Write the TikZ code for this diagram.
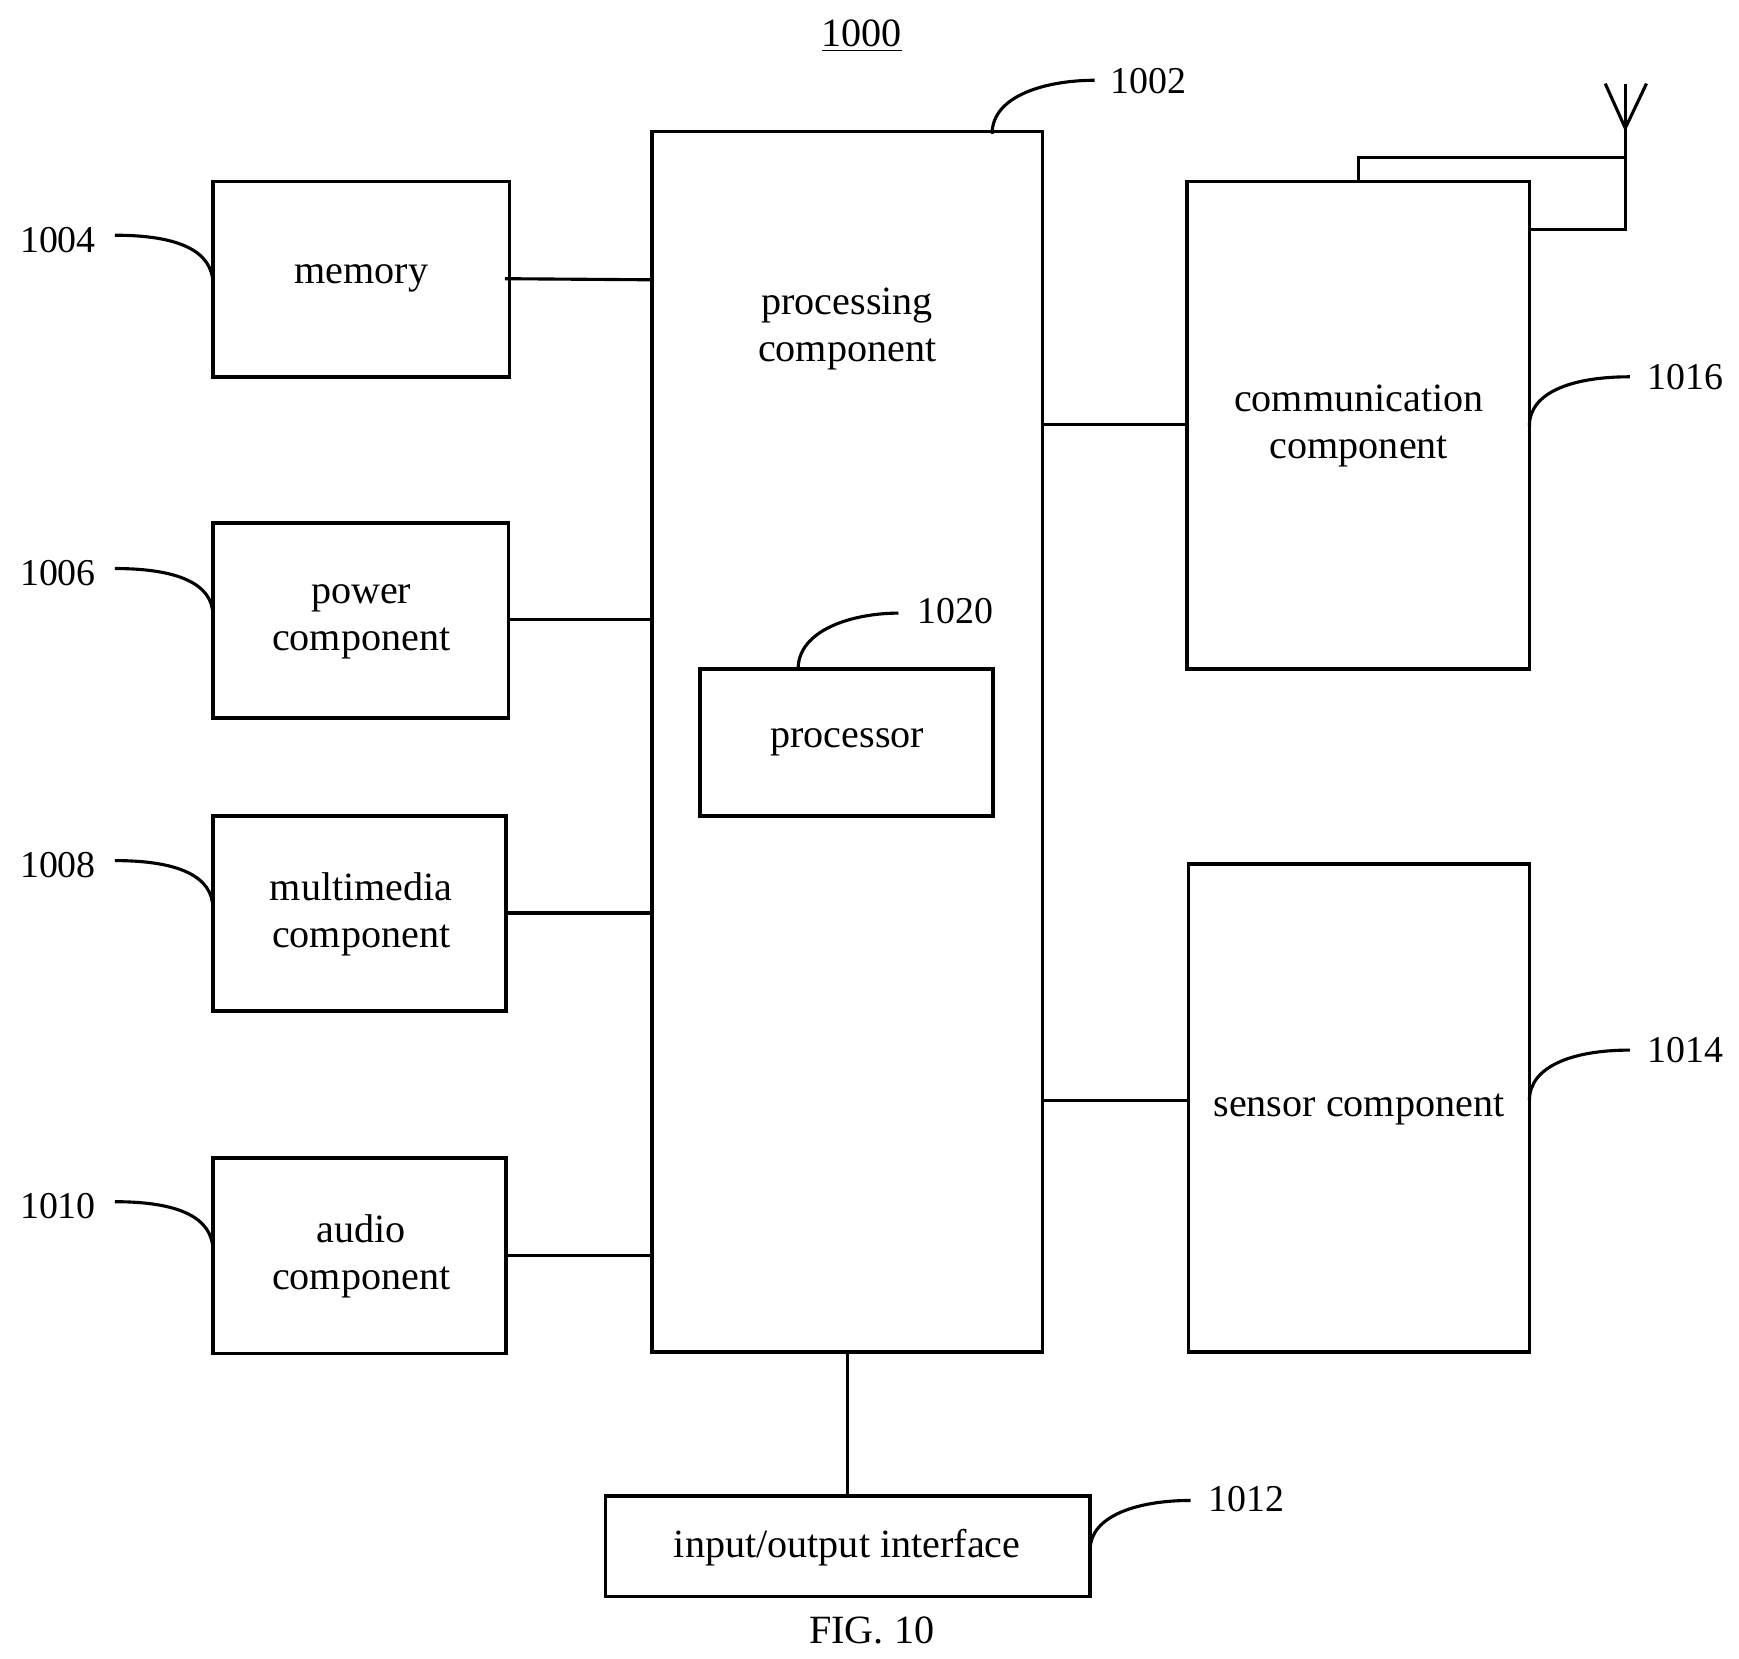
\documentclass[tikz,border=0pt]{standalone}
\usepackage{fontspec}
\setmainfont{Liberation Serif}
\begin{document}
\begin{tikzpicture}[x=0.5pt,y=-0.5pt,line width=1.4pt,
  box/.style={draw,line width=1.6pt},
  txt/.style={font=\fontsize{18}{21}\selectfont,align=center},
  lbl/.style={font=\fontsize{17}{20}\selectfont}]
\useasboundingbox (0,0) rectangle (1560,1488);
\node[txt] (title) at (773,32) {\underline{1000}};
\draw[box] (585,118) rectangle (935,1213); \coordinate (pc) at (760,1213);
\node[txt] (ptxt) at (760,295) {processing\\component};
\draw[box] (191,163) rectangle (457,338); \node[txt] (mem) at (324,250) {memory};
\draw[box] (191,469) rectangle (456,644); \node[txt] (pow) at (324,558) {power\\component};
\draw[box] (191,732) rectangle (454,907); \node[txt] (mm) at (324,820) {multimedia\\component};
\draw[box] (191,1039) rectangle (454,1214); \node[txt] (au) at (324,1127) {audio\\component};
\draw[box] (628,600) rectangle (891,732); \node[txt] (pr) at (760,666) {processor};
\draw[box] (1065,163) rectangle (1372,600); \node[txt] (com) at (1219,382) {communication\\component};
\draw[box] (1066,775) rectangle (1372,1213); \node[txt] (sen) at (1219,995) {sensor component};
\draw[box] (543,1342) rectangle (978,1432); \node[txt] (io) at (760,1388) {input/output interface};
\node[txt] (fig) at (782,1463) {FIG. 10};
% connectors
\draw (453,250) -- (585,251);
\draw (456,556) -- (585,556);
\draw (454,819) -- (585,819);
\draw (454,1126) -- (585,1126);
\draw (935,381) -- (1065,381);
\draw (935,987) -- (1066,987);
\draw (760,1213) -- (760,1342);
% antenna
\draw (1219,163) -- (1219,141) -- (1458,141);
\draw (1372,206) -- (1458,206) -- (1458,75);
\draw (1440,75) -- (1458,115) -- (1477,75);
% labels
\node[lbl] (l1002) at (1030,73) {1002};
\draw (890,120) .. controls (890,85) and (940,72) .. (982,72);
\node[lbl] (l1004) at (52,215) {1004};
\draw (103,211) .. controls (160,211) and (191,225) .. (191,255);
\node[lbl] (l1006) at (52,514) {1006};
\draw (103,510) .. controls (160,510) and (191,524) .. (191,552);
\node[lbl] (l1008) at (52,776) {1008};
\draw (103,772) .. controls (160,772) and (191,786) .. (191,815);
\node[lbl] (l1010) at (52,1082) {1010};
\draw (103,1078) .. controls (160,1078) and (191,1092) .. (191,1122);
\node[lbl] (l1020) at (857,548) {1020};
\draw (716,600) .. controls (716,565) and (765,550) .. (806,550);
\node[lbl] (l1016) at (1512,338) {1016};
\draw (1372,382) .. controls (1372,352) and (1410,338) .. (1462,338);
\node[lbl] (l1014) at (1512,942) {1014};
\draw (1372,987) .. controls (1372,957) and (1410,942) .. (1462,942);
\node[lbl] (l1012) at (1118,1345) {1012};
\draw (978,1390) .. controls (978,1360) and (1020,1346) .. (1068,1346);
\end{tikzpicture}
\end{document}
